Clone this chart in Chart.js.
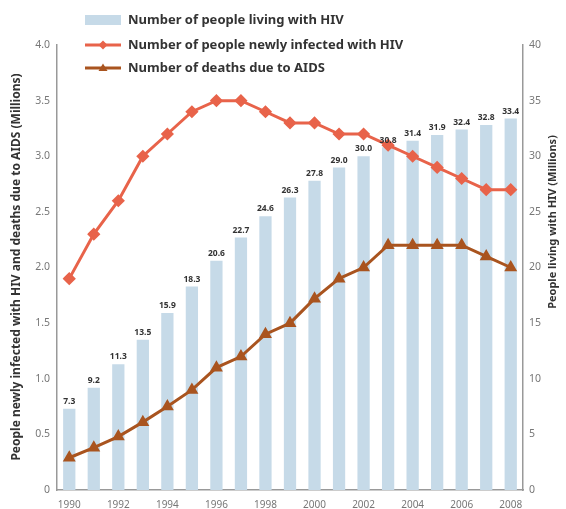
<!DOCTYPE html>
<html>
<head>
<meta charset="utf-8">
<script src="https://cdn.jsdelivr.net/npm/chart.js@4/dist/chart.umd.min.js"></script>
<style>
  html, body { margin: 0; padding: 0; background: #fff; }
  #wrap { width: 566px; height: 509px; }
</style>
</head>
<body>
<div id="wrap"><canvas id="hivChart"></canvas></div>
<script>
const years = ["1990", "1991", "1992", "1993", "1994", "1995", "1996", "1997", "1998", "1999",
  "2000", "2001", "2002", "2003", "2004", "2005", "2006", "2007", "2008"];
const livingWithHiv = [7.3, 9.2, 11.3, 13.5, 15.9, 18.3, 20.6, 22.7, 24.6, 26.3,
  27.8, 29.0, 30.0, 30.8, 31.4, 31.9, 32.4, 32.8, 33.4];
const newlyInfected = [1.9, 2.3, 2.6, 3.0, 3.2, 3.4, 3.5, 3.5, 3.4, 3.3,
  3.3, 3.2, 3.2, 3.1, 3.0, 2.9, 2.8, 2.7, 2.7];
const aidsDeaths = [0.29, 0.38, 0.48, 0.61, 0.75, 0.9, 1.1, 1.2, 1.4, 1.5,
  1.72, 1.9, 2.0, 2.2, 2.2, 2.2, 2.2, 2.1, 2.0];
const leftTicks = ["0", "0.5", "1.0", "1.5", "2.0", "2.5", "3.0", "3.5", "4.0"];
const rightTicks = ["0", "5", "10", "15", "20", "25", "30", "35", "40"];

const barColor = "#c6dae8";
const newColor = "#e8634a";
const deathColor = "#a9541f";
const textColor = "#333";
const tickColor = "#777";

// labels on top of the bars, legend and axis titles
const decorations = {
  id: "decorations",
  afterDatasetsDraw(chart) {
    const { ctx } = chart;
    ctx.save();
    const barMeta = chart.getDatasetMeta(0);
    ctx.font = "bold 8.5px 'Noto Sans'";
    ctx.fillStyle = textColor;
    ctx.textAlign = "center";
    ctx.textBaseline = "bottom";
    barMeta.data.forEach((bar, i) => {
      ctx.fillText(livingWithHiv[i].toFixed(1), bar.x, bar.y - 3);
    });
    ctx.restore();
  },
  afterDraw(chart) {
    const { ctx } = chart;
    ctx.save();
    // legend
    const lx = 85, rows = [20, 45, 68];
    const names = chart.data.datasets.map((d) => d.label);
    ctx.font = "bold 13px 'Noto Sans'";
    ctx.textBaseline = "middle";
    ctx.textAlign = "left";
    rows.forEach((y, i) => {
      if (i === 0) {
        ctx.fillStyle = barColor;
        ctx.fillRect(lx, y - 5, 36, 10);
      } else {
        const c = i === 1 ? newColor : deathColor;
        ctx.strokeStyle = c;
        ctx.lineWidth = 3;
        ctx.beginPath();
        ctx.moveTo(lx, y);
        ctx.lineTo(lx + 36, y);
        ctx.stroke();
        ctx.fillStyle = c;
        ctx.beginPath();
        if (i === 1) {
          ctx.moveTo(lx + 18, y - 4.5);
          ctx.lineTo(lx + 22.5, y);
          ctx.lineTo(lx + 18, y + 4.5);
          ctx.lineTo(lx + 13.5, y);
        } else {
          ctx.moveTo(lx + 18, y - 4.5);
          ctx.lineTo(lx + 22.5, y + 3);
          ctx.lineTo(lx + 13.5, y + 3);
        }
        ctx.closePath();
        ctx.fill();
      }
      ctx.fillStyle = textColor;
      ctx.fillText(names[i], lx + 43, y);
    });
    ctx.restore();
    // axis titles
    ctx.save();
    ctx.font = "bold 12px 'Noto Sans'";
    ctx.fillStyle = textColor;
    ctx.textAlign = "center";
    ctx.textBaseline = "middle";
    ctx.translate(17, 267);
    ctx.rotate(-Math.PI / 2);
    ctx.fillText("People newly infected with HIV and deaths due to AIDS (Millions)", 0, 0);
    ctx.restore();
    ctx.save();
    ctx.font = "bold 11px 'Noto Sans'";
    ctx.fillStyle = textColor;
    ctx.textAlign = "center";
    ctx.textBaseline = "middle";
    ctx.translate(553, 222);
    ctx.rotate(-Math.PI / 2);
    ctx.fillText("People living with HIV (Millions)", 0, 0);
    ctx.restore();
  }
};

new Chart(document.getElementById("hivChart"), {
  type: "bar",
  data: {
    labels: years,
    datasets: [
      {
        type: "bar",
        label: "Number of people living with HIV",
        data: livingWithHiv,
        yAxisID: "yRight",
        backgroundColor: barColor,
        barPercentage: 0.5,
        categoryPercentage: 1.0,
        order: 3
      },
      {
        type: "line",
        label: "Number of people newly infected with HIV",
        data: newlyInfected,
        yAxisID: "yLeft",
        borderColor: newColor,
        backgroundColor: newColor,
        borderWidth: 3,
        pointStyle: "rectRot",
        pointRadius: 4.5,
        tension: 0,
        order: 1
      },
      {
        type: "line",
        label: "Number of deaths due to AIDS",
        data: aidsDeaths,
        yAxisID: "yLeft",
        borderColor: deathColor,
        backgroundColor: deathColor,
        borderWidth: 3,
        pointStyle: "triangle",
        pointRadius: 4.5,
        tension: 0,
        order: 2
      }
    ]
  },
  options: {
    responsive: true,
    maintainAspectRatio: false,
    animation: false,
    layout: { padding: { top: 45, left: 0, right: 0, bottom: 0 } },
    plugins: {
      legend: { display: false },
      tooltip: { enabled: false }
    },
    scales: {
      x: {
        grid: { display: false, drawTicks: false },
        border: { color: "#999", width: 1.5 },
        afterFit: (scale) => { scale.height = 19; },
        ticks: {
          autoSkip: false,
          maxRotation: 0,
          padding: 9,
          color: tickColor,
          font: { family: "'Noto Sans'", size: 10 },
          callback: (v, i) => (i % 2 === 0 ? years[i] : "")
        }
      },
      yLeft: {
        position: "left",
        min: 0,
        max: 4,
        grid: { display: false, drawTicks: false },
        border: { color: "#999", width: 1.5 },
        afterFit: (scale) => { scale.width = 57; },
        ticks: {
          stepSize: 0.5,
          padding: 7,
          color: tickColor,
          font: { family: "'Noto Sans'", size: 10.5 },
          callback: (v, i) => leftTicks[i]
        }
      },
      yRight: {
        position: "right",
        min: 0,
        max: 40,
        grid: { display: false, drawTicks: false },
        border: { color: "#999", width: 1.5 },
        afterFit: (scale) => { scale.width = 43; },
        ticks: {
          stepSize: 5,
          padding: 6,
          color: tickColor,
          font: { family: "'Noto Sans'", size: 10.5 },
          callback: (v, i) => rightTicks[i]
        }
      }
    }
  },
  plugins: [decorations]
});
</script>
</body>
</html>
